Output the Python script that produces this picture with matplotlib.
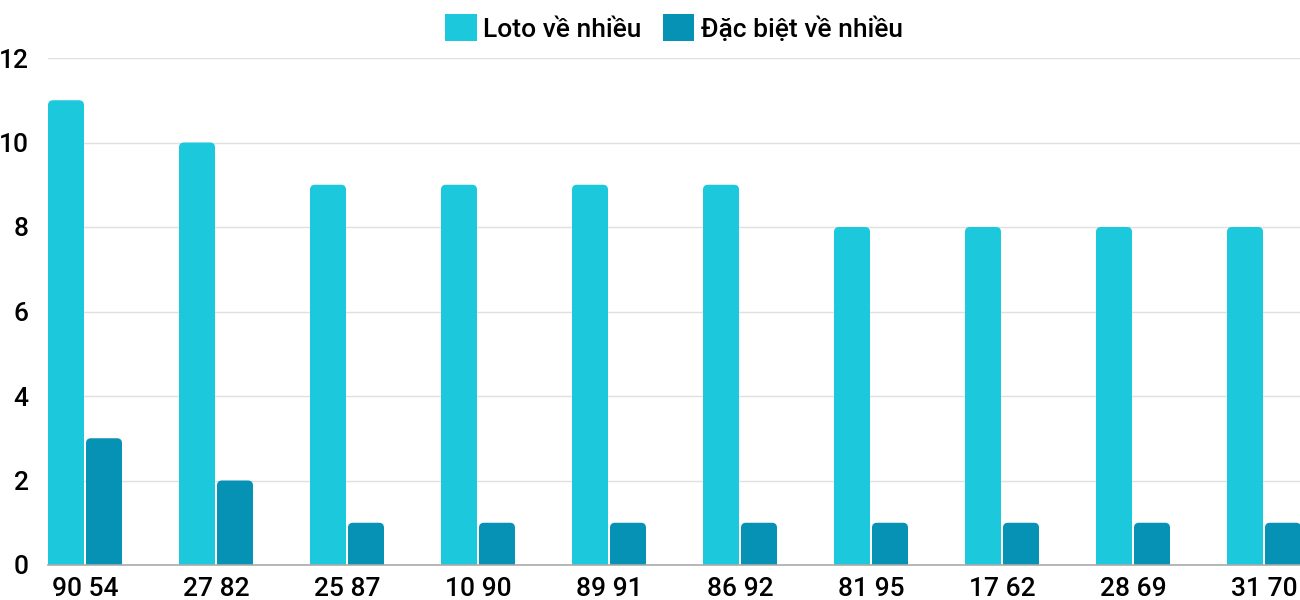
import matplotlib
matplotlib.use("Agg")
import matplotlib.pyplot as plt
from matplotlib.path import Path
from matplotlib.patches import PathPatch, Patch
import numpy as np

categories = ["90 54", "27 82", "25 87", "10 90", "89 91", "86 92", "81 95", "17 62", "28 69", "31 70"]
loto_values = [11, 10, 9, 9, 9, 9, 8, 8, 8, 8]
special_values = [3, 2, 1, 1, 1, 1, 1, 1, 1, 1]
series_names = ["Loto về nhiều", "Đặc biệt về nhiều"]
colors = ["#1BC8DC", "#0592B5"]

plt.rcParams['font.family'] = ['Roboto', 'DejaVu Sans']
plt.rcParams['font.weight'] = 500

fig = plt.figure(figsize=(13, 6), dpi=100)
ax = fig.add_axes([48/1300, 1-565/600, 1253/1300, (565-58)/600])

x = np.arange(len(categories))
bw = 36/131
off = 0.145

def rounded_bars(ax, xs, heights, width, color, rpx=5):
    bars = ax.bar(xs, heights, width=width, color=color, linewidth=0)
    fig.canvas.draw()
    inv = ax.transData.inverted()
    p0 = inv.transform((0, 0))
    p1 = inv.transform((rpx, rpx))
    rx, ry = abs(p1[0]-p0[0]), abs(p1[1]-p0[1])
    for b in bars:
        x0, y0 = b.get_x(), b.get_y()
        w, h = b.get_width(), b.get_height()
        b.remove()
        x1, y1 = x0 + w, y0 + h
        verts = [(x0, y0), (x0, y1-ry), (x0, y1), (x0+rx, y1),
                 (x1-rx, y1), (x1, y1), (x1, y1-ry), (x1, y0), (x0, y0)]
        codes = [Path.MOVETO, Path.LINETO, Path.CURVE3, Path.CURVE3,
                 Path.LINETO, Path.CURVE3, Path.CURVE3, Path.LINETO, Path.CLOSEPOLY]
        ax.add_patch(PathPatch(Path(verts, codes), facecolor=color, edgecolor='none', zorder=3))

ax.set_xlim(-0.2824, len(categories)-1+0.2824)
ax.set_ylim(0, 12)
rounded_bars(ax, x - off, loto_values, bw, colors[0])
rounded_bars(ax, x + off, special_values, bw, colors[1])

ax.set_yticks(range(0, 13, 2))
ax.set_xticks(x)
ax.set_xticklabels(categories)
ax.tick_params(axis='both', length=0, labelsize=19, colors='black')
ax.tick_params(axis='x', pad=9)
ax.tick_params(axis='y', pad=14)
for lab in ax.get_yticklabels():
    lab.set_horizontalalignment('right')
ax.grid(axis='y', color='#e0e0e0', linewidth=1, zorder=0)
ax.set_axisbelow(True)
for s in ['top', 'right', 'left']:
    ax.spines[s].set_visible(False)
ax.spines['bottom'].set_color('#aaaaaa')
ax.spines['bottom'].set_linewidth(1.2)
ax.spines['bottom'].set_zorder(4)

handles = [Patch(facecolor=c, edgecolor='none') for c in colors]
fig.legend(handles, series_names, loc='center', bbox_to_anchor=(674/1300, 1-28/600),
           ncol=2, frameon=False, prop={'size': 19, 'weight': 500},
           handlelength=1.2, handleheight=1.15,
           handletextpad=0.25, columnspacing=0.8, borderaxespad=0, borderpad=0)

fig.savefig("out.png", dpi=100)
